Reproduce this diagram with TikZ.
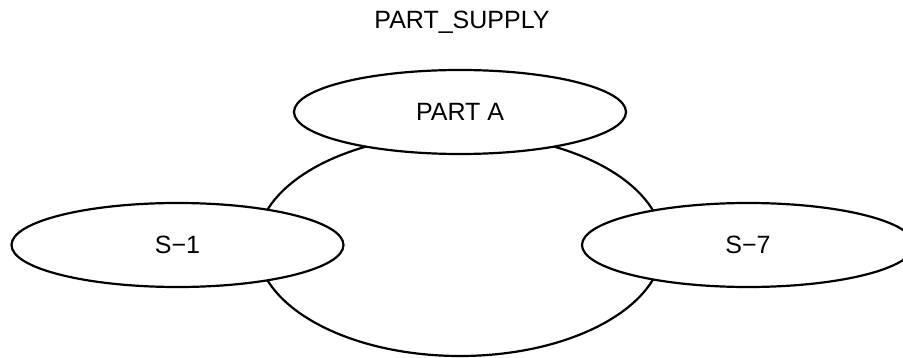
\documentclass[tikz,border=0pt]{standalone}
\usepackage{fontspec}
\setmainfont{Liberation Sans}
\usetikzlibrary{shapes.geometric}
\begin{document}
\begin{tikzpicture}[x=1pt,y=-1pt,
  oval/.style={ellipse, draw=black, line width=2.2pt, fill=white, inner sep=0pt, outer sep=0pt,
    minimum width=332pt, minimum height=84pt, font=\fontsize{25}{30}\selectfont},
  bigoval/.style={ellipse, draw=black, line width=2.2pt, fill=white, inner sep=0pt, outer sep=0pt,
    minimum width=406pt, minimum height=222pt},
  titletext/.style={font=\fontsize{25}{30}\selectfont, anchor=base, inner sep=0pt}]
\useasboundingbox (0,0) rectangle (903,358);
\clip (0,0) rectangle (903,358);
\node[titletext] (title) at (462,29) {PART\_SUPPLY};
\node[bigoval] (big) at (460,245) {};
\node[oval] (parta) at (460,112) {PART A};
\node[oval] (s1) at (177.5,245) {S−1};
\node[oval] (s7) at (748,245) {S−7};
\end{tikzpicture}
\end{document}
